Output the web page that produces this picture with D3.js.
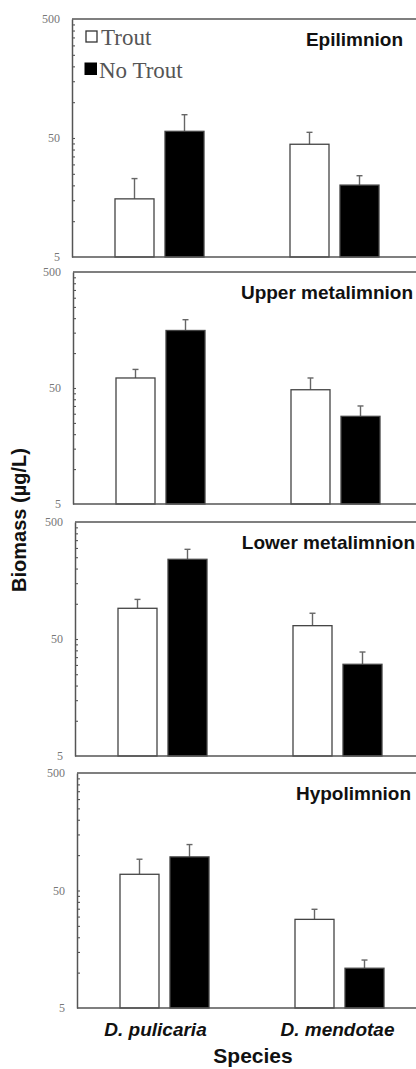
<!DOCTYPE html>
<html>
<head>
<meta charset="utf-8">
<script src="https://cdn.jsdelivr.net/npm/d3@7"></script>
<style>
  html, body { margin: 0; padding: 0; background: #fff; }
  svg { display: block; }
</style>
</head>
<body>
<div id="chart"></div>
<script>
// ---- data ----
const categories = ["D. pulicaria", "D. mendotae"];
const series = ["Trout", "No Trout"];
const panels = ["Epilimnion", "Upper metalimnion", "Lower metalimnion", "Hypolimnion"];
// mean biomass (µg/L), per panel: [D. pulicaria, D. mendotae]
const troutMean   = [[15.4, 44.3], [61, 48.3], [91.5, 65], [68.7, 28.4]];
const troutUpper  = [[22.8, 55.8], [72.3, 61], [109, 83], [92.3, 34.6]];
const noTroutMean = [[56.9, 20.1], [156.6, 28.5], [240, 30.4], [96.6, 10.9]];
const noTroutUpper= [[78.5, 24.1], [194, 35], [292, 38.7], [123, 12.8]];
const majorTicks = [5, 50, 500];
const majorLabels = ["5", "50", "500"];
const minorTicks = [10, 15, 20, 25, 30, 35, 40, 45, 100, 150, 200, 250, 300, 350, 400, 450];

// ---- layout ----
const W = 416, H = 1069;
const panelTop = [19, 272, 522, 773];
const panelBottom = [257, 504, 756, 1008];
const axisX = [72, 73, 75, 77];
const titleRight = [403, 413, 415, 411];
const labelShift = [-9, -2];

const svg = d3.select("#chart").append("svg")
  .attr("width", W).attr("height", H)
  .attr("viewBox", `0 0 ${W} ${H}`);

const x0 = d3.scaleBand().domain(categories).range([0, 350]).padding(0);
const x1 = d3.scaleBand().domain(series).range([-44.5, 44.5]).paddingInner(0.22).paddingOuter(0);
const frameColor = "#555";

panels.forEach((name, i) => {
  const g = svg.append("g").attr("transform", `translate(${axisX[i]},0)`);
  const y = d3.scaleLog().domain([5, 500]).range([panelBottom[i], panelTop[i]]);

  // frame: top line
  g.append("line").attr("x1", 0).attr("x2", 360)
    .attr("y1", y(500)).attr("y2", y(500))
    .attr("stroke", frameColor).attr("stroke-width", 1.4);

  const rows = [];
  categories.forEach((c, j) => {
    rows.push({cat: c, s: "Trout", v: troutMean[i][j], up: troutUpper[i][j]});
    rows.push({cat: c, s: "No Trout", v: noTroutMean[i][j], up: noTroutUpper[i][j]});
  });

  // error bars (upper only)
  const eb = g.append("g").attr("stroke", "#666").attr("stroke-width", 1.4);
  rows.forEach(d => {
    const cx = x0(d.cat) + x0.bandwidth() / 2 + x1(d.s) + x1.bandwidth() / 2;
    eb.append("line").attr("x1", cx).attr("x2", cx).attr("y1", y(d.v)).attr("y2", y(d.up));
    eb.append("line").attr("x1", cx - 3).attr("x2", cx + 3).attr("y1", y(d.up)).attr("y2", y(d.up));
  });

  // bars
  g.append("g").selectAll("rect").data(rows).join("rect")
    .attr("x", d => x0(d.cat) + x0.bandwidth() / 2 + x1(d.s))
    .attr("width", x1.bandwidth())
    .attr("y", d => y(d.v))
    .attr("height", d => y(5) - y(d.v))
    .attr("fill", d => d.s === "Trout" ? "#fff" : "#000")
    .attr("stroke", "#444").attr("stroke-width", 1.3);

  // bottom line
  g.append("line").attr("x1", 0).attr("x2", 360)
    .attr("y1", y(5)).attr("y2", y(5))
    .attr("stroke", frameColor).attr("stroke-width", 1.4);

  // left axis with labels
  const ax = g.append("g").call(
    d3.axisLeft(y).tickValues(majorTicks)
      .tickFormat((d, k) => majorLabels[k]).tickSize(0).tickPadding(12));
  ax.select(".domain").attr("stroke", frameColor).attr("stroke-width", 1.5);
  ax.selectAll("text").attr("font-family", "'Liberation Serif', 'Times New Roman', serif")
    .attr("font-size", 12).attr("fill", "#777");

  // inward minor ticks
  const mt = g.append("g").call(d3.axisRight(y).tickValues(minorTicks.concat([50])).tickSize(3).tickFormat(""));
  mt.select(".domain").remove();
  mt.selectAll("line").attr("stroke", "#555").attr("stroke-width", 1.1);

  // panel title
  svg.append("text").attr("x", titleRight[i]).attr("y", panelTop[i] + 27)
    .attr("text-anchor", "end")
    .attr("font-family", "'Liberation Sans', Arial, sans-serif")
    .attr("font-weight", "bold").attr("font-size", 19).attr("fill", "#111")
    .text(name);
});

// legend
const leg = svg.append("g").attr("font-family", "'Liberation Serif', 'Times New Roman', serif")
  .attr("font-size", 23).attr("fill", "#555");
leg.append("rect").attr("x", 86).attr("y", 31).attr("width", 11).attr("height", 11)
  .attr("fill", "#fff").attr("stroke", "#333").attr("stroke-width", 1.3);
leg.append("text").attr("x", 101).attr("y", 45).text(series[0]);
leg.append("rect").attr("x", 84.5).attr("y", 62.5).attr("width", 12.5).attr("height", 12.5)
  .attr("fill", "#000");
leg.append("text").attr("x", 99).attr("y", 78).text(series[1]);

// category labels
categories.forEach((c, j) => {
  svg.append("text")
    .attr("x", axisX[3] + x0(c) + x0.bandwidth() / 2 + labelShift[j])
    .attr("y", 1036).attr("text-anchor", "middle")
    .attr("font-family", "'Liberation Sans', Arial, sans-serif")
    .attr("font-weight", "bold").attr("font-style", "italic").attr("font-size", 19)
    .attr("fill", "#111").text(c);
});

// axis titles
svg.append("text").attr("x", 253).attr("y", 1063).attr("text-anchor", "middle")
  .attr("font-family", "'Liberation Sans', Arial, sans-serif")
  .attr("font-weight", "bold").attr("font-size", 21).attr("fill", "#111").text("Species");

svg.append("text").attr("transform", "translate(26,520) rotate(-90)")
  .attr("text-anchor", "middle")
  .attr("font-family", "'Liberation Sans', Arial, sans-serif")
  .attr("font-weight", "bold").attr("font-size", 20).attr("fill", "#111").text("Biomass (µg/L)");
</script>
</body>
</html>
